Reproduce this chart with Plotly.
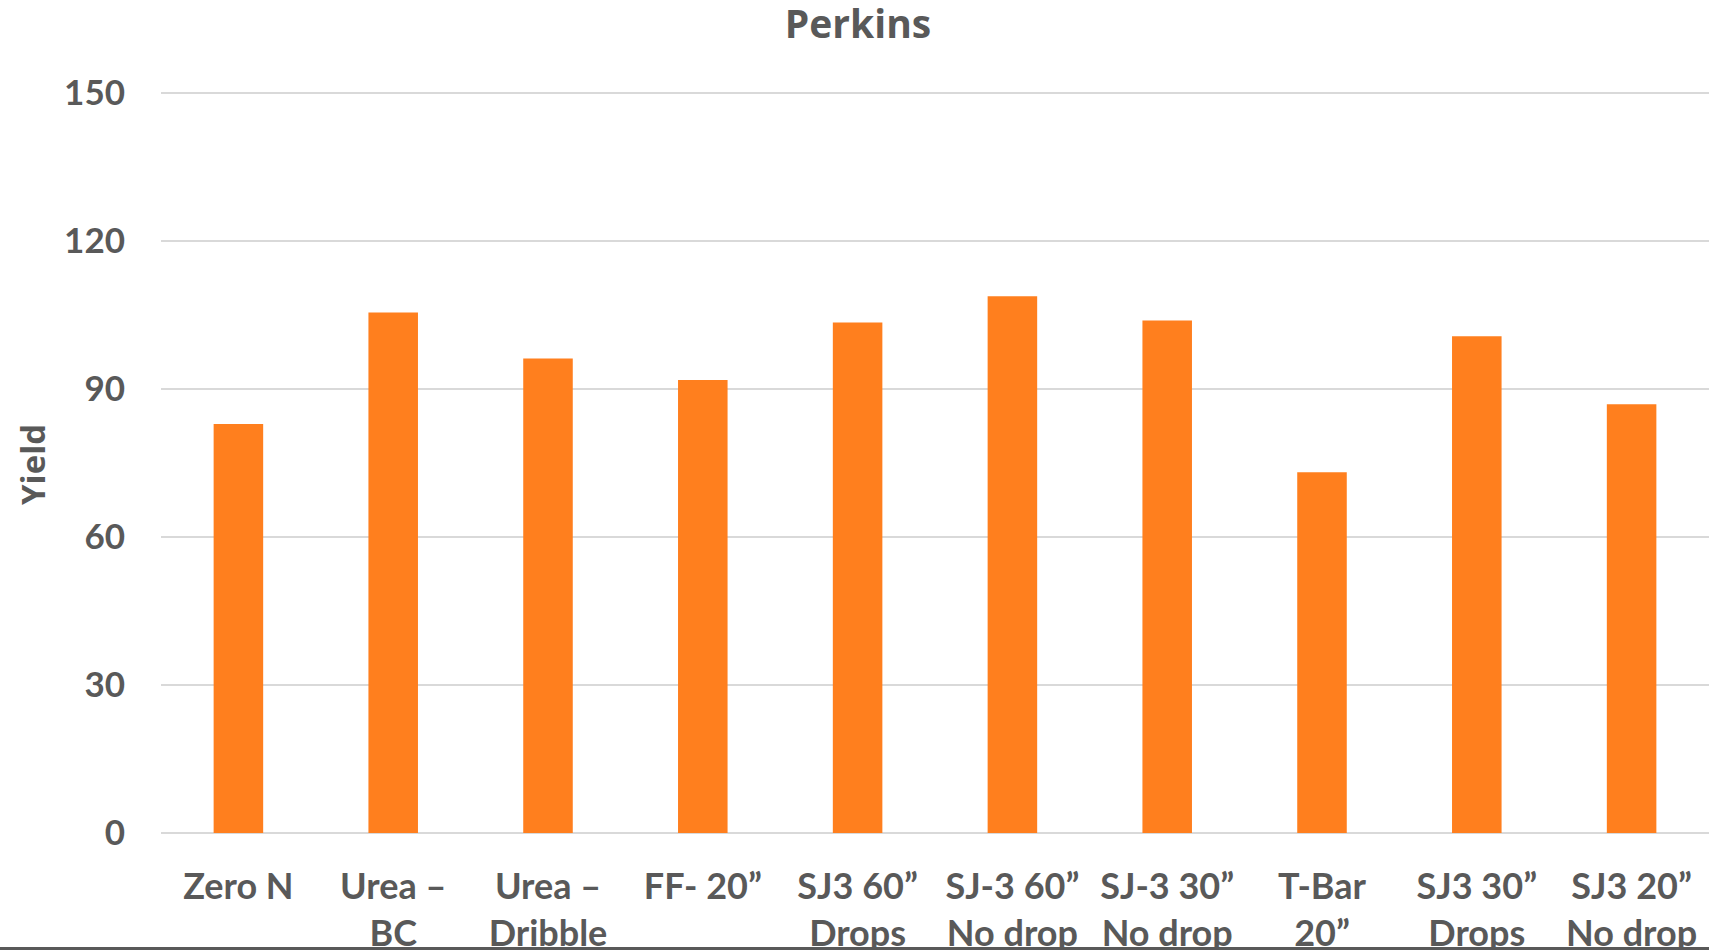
import plotly.graph_objects as go

categories = ["Zero N", "Urea –<br>BC", "Urea –<br>Dribble", "FF- 20”", "SJ3 60”<br>Drops",
              "SJ-3 60”<br>No drop", "SJ-3 30”<br>No drop", "T-Bar<br>20”", "SJ3 30”<br>Drops",
              "SJ3 20”<br>No drop"]
yield_values = [82.9, 105.5, 96.2, 91.8, 103.5, 108.8, 103.9, 73.1, 100.7, 86.9]
y_ticks = [0, 30, 60, 90, 120, 150]

W, H = 1709, 950
ML, MR, MT, MB = 161, 0, 91, 117
PW, PH = W - ML - MR, H - MT - MB
ZERO_Y = MT + PH  # figure px of y=0

TEXT = "#595959"
GRID = "#d9d9d9"

fig = go.Figure()
fig.add_trace(go.Bar(x=categories, y=yield_values, marker=dict(color="#FF7F1E", line=dict(width=0)),
                     showlegend=False, hoverinfo="skip"))

fig.update_layout(
    width=W, height=H,
    margin=dict(l=ML, r=MR, t=MT, b=MB, pad=0),
    paper_bgcolor="white", plot_bgcolor="white",
    bargap=0.68,
    title=dict(text="<b>Perkins</b>", x=858 / W, xref="container", xanchor="center",
               y=1 - 24 / H, yref="container", yanchor="middle",
               font=dict(family="Open Sans", size=39, color=TEXT)),
    xaxis=dict(showgrid=False, showline=False, ticks="", zeroline=False, automargin=False,
               tickfont=dict(family="Lato", size=36, color=TEXT, weight="bold"),
               ticklabelstandoff=29),
    yaxis=dict(range=[0, 150.4], tickvals=y_ticks, showgrid=True, gridcolor=GRID, gridwidth=2,
               zeroline=True, zerolinecolor=GRID, zerolinewidth=2, showline=False, ticks="",
               automargin=False,
               tickfont=dict(family="Lato", size=35, color=TEXT, weight="bold"),
               ticklabelstandoff=35),
    annotations=[dict(text="<b>Yield</b>", textangle=-90, xref="paper", yref="paper",
                      x=(32 - ML) / PW, y=(ZERO_Y - 465) / PH,
                      xanchor="center", yanchor="middle", showarrow=False,
                      font=dict(family="Open Sans", size=33, color=TEXT))],
    shapes=[dict(type="line", xref="paper", yref="paper", x0=-ML / PW, x1=1.0,
                 y0=-(948.5 - ZERO_Y) / PH, y1=-(948.5 - ZERO_Y) / PH,
                 line=dict(color=TEXT, width=3))],
)

fig.write_html("out.html", config={"displayModeBar": False},
               post_script="document.body.style.margin='0';document.body.style.overflow='hidden';")
